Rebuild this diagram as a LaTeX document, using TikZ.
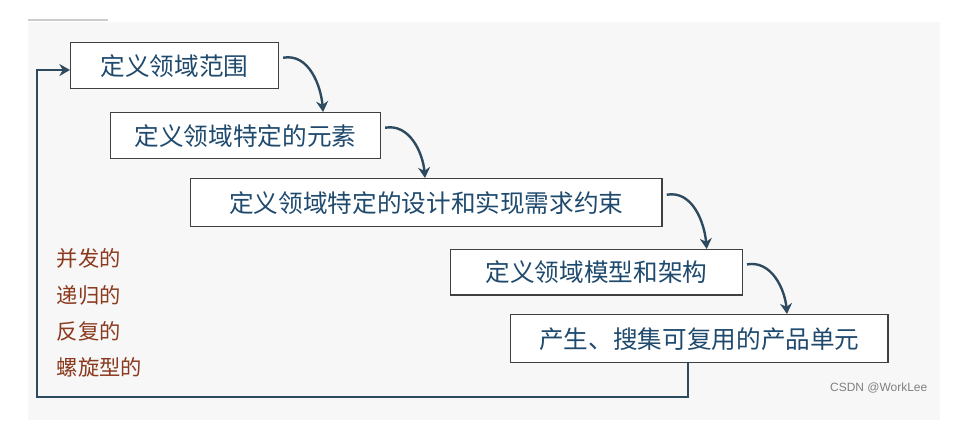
\documentclass[tikz,border=0pt]{standalone}
\usepackage{fontspec}
\setmainfont{Liberation Sans}
\newfontfamily\cjk{Noto Sans CJK SC}
\usetikzlibrary{arrows.meta}
\definecolor{txtblue}{HTML}{1F4A6E}
\definecolor{arr}{HTML}{2E4A5E}
\definecolor{brn}{HTML}{8B3A1E}
\begin{document}
\begin{tikzpicture}[x=0.0264cm,y=-0.0264cm,
  stepbox/.style={draw=black!75,line width=1.1pt,fill=white,inner sep=0pt,text=txtblue,font=\cjk\fontsize{18.5}{20}\selectfont},
  carr/.style={draw=arr,line width=1.8pt,-{Stealth[length=8pt,width=9pt]}},
  lbl/.style={text=brn,font=\cjk\fontsize{16}{18}\selectfont,anchor=west}]
\useasboundingbox (0,0) rectangle (961,443);
\fill[black!3] (28,22) rectangle (940,420);
\draw[black!20,line width=1pt] (28,20) -- (108,20);
\node[stepbox,minimum width=156pt,minimum height=34.5pt,anchor=north west] (b1) at (70,42) {定义领域范围};
\node[stepbox,minimum width=202.5pt,minimum height=34.5pt,anchor=north west] (b2) at (110,112) {定义领域特定的元素};
\node[stepbox,minimum width=354pt,minimum height=36pt,anchor=north west] (b3) at (190,178) {定义领域特定的设计和实现需求约束};
\node[stepbox,minimum width=219pt,minimum height=34pt,anchor=north west] (b4) at (450,249) {定义领域模型和架构};
\node[stepbox,minimum width=283.5pt,minimum height=36pt,anchor=north west] (b5) at (510,314) {产生、搜集可复用的产品单元};
\foreach \a/\b in {b1/b2,b2/b3,b3/b4,b4/b5}
  \draw[carr] ([xshift=3pt,yshift=6pt]\a.east) to[out=10,in=95] ([xshift=33pt]\a.south east |- \b.north);
\coordinate (c1) at (688,397);
\coordinate (c2) at (37,397);
\coordinate (c3) at (37,70);
\draw[carr] (b5.south -| c1) -- (c1) -- (c2) -- (c3) -- (c3 -| b1.west);
\node[lbl] (t1) at (52,258) {并发的};
\node[lbl] (t2) at (52,295) {递归的};
\node[lbl] (t3) at (52,331) {反复的};
\node[lbl] (t4) at (52,367) {螺旋型的};
\node[text=black!50,font=\fontsize{9}{10}\selectfont,anchor=east] (wm) at (932,388) {CSDN @WorkLee};
\end{tikzpicture}
\end{document}
